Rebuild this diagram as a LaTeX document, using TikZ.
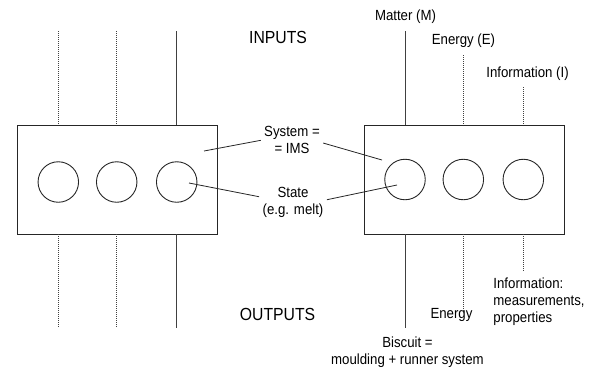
\documentclass[tikz,border=0pt]{standalone}
\usepackage{fontspec}
\setmainfont{Liberation Sans}[FakeStretch=0.9]

\begin{document}
\begin{tikzpicture}[x=1bp, y=-1bp, line width=0.9bp,
      sysbox/.style={draw=black!85, minimum width=200bp, minimum height=109bp,
                     inner sep=0pt},
      cell/.style={draw=black!85, circle, minimum size=40.5bp, inner sep=0pt},
      txt/.style={font=\fontsize{14.7bp}{17bp}\selectfont, inner sep=3bp,
                  align=center},
      head/.style={font=\fontsize{17.5bp}{19bp}\selectfont, inner sep=0pt},
      flow/.style={draw=black!75},
      flowdot/.style={draw=black!75, dash pattern=on 1bp off 1bp},
      lead/.style={draw=black!85, line width=0.8bp},
    ]
      \useasboundingbox (0,0) rectangle (590,377);

      \node[sysbox] (lbox) at (117,179.5) {};
      \node[sysbox] (rbox) at (464,179.5) {};
      \node[cell] (lc1) at (58.3,182) {};
      \node[cell] (lc2) at (116.7,182) {};
      \node[cell] (lc3) at (176.7,182) {};
      \node[cell] (rc1) at (405,179.5) {};
      \node[cell] (rc2) at (463.3,179.5) {};
      \node[cell] (rc3) at (523.3,179.5) {};

      \node[head, anchor=base] (inp) at (278,43.3) {INPUTS};
      \node[head, anchor=base] (outp) at (277.5,320.7) {OUTPUTS};
      \node[txt, anchor=base] (matter) at (405.5,20.5) {Matter (M)};
      \node[txt, anchor=base] (enin) at (463.5,44.5) {Energy (E)};
      \node[txt, anchor=base] (infin) at (527.5,77.5) {Information (I)};
      \node[txt] (sys) at (292,140.3) {System =\\= IMS};
      \node[txt] (state) at (293,202.7) {State\\(e.g. melt)};
      \node[txt, anchor=base] (enout) at (451.5,318) {Energy};
      \node[txt, align=left, anchor=west] (infout) at (490,301.2)
        {Information:\\measurements,\\properties};
      \node[txt] (bisc) at (407.5,351.7) {Biscuit =\\moulding + runner system};

      \foreach \i/\x/\s in {1/58.3/flowdot, 2/116.7/flowdot, 3/176.7/flow} {
        \coordinate (ltop\i) at (\x,31);
        \coordinate (lbot\i) at (\x,328);
        \draw[\s] (ltop\i) -- (ltop\i |- lbox.north);
        \draw[\s] (lbox.south -| lbot\i) -- (lbot\i);
      }
      \foreach \i/\x/\t/\b/\s in {1/405/31/328/flow, 2/463.3/55/313/flowdot,
                                  3/523.3/87/272/flowdot} {
        \coordinate (rtop\i) at (\x,\t);
        \coordinate (rbot\i) at (\x,\b);
        \draw[\s] (rtop\i) -- (rtop\i |- rbox.north);
        \draw[\s] (rbox.south -| rbot\i) -- (rbot\i);
      }

      \coordinate (lsysend) at (204,151);
      \coordinate (rsysend) at (382,160);
      \coordinate (lstateend) at (189,183);
      \coordinate (rstateend) at (397,185);
      \draw[lead] (sys.west) -- (lsysend);
      \draw[lead] (sys.-5) -- (rsysend);
      \draw[lead] (state.170) -- (lstateend);
      \draw[lead] (state.5) -- (rstateend);
    \end{tikzpicture}
\end{document}
